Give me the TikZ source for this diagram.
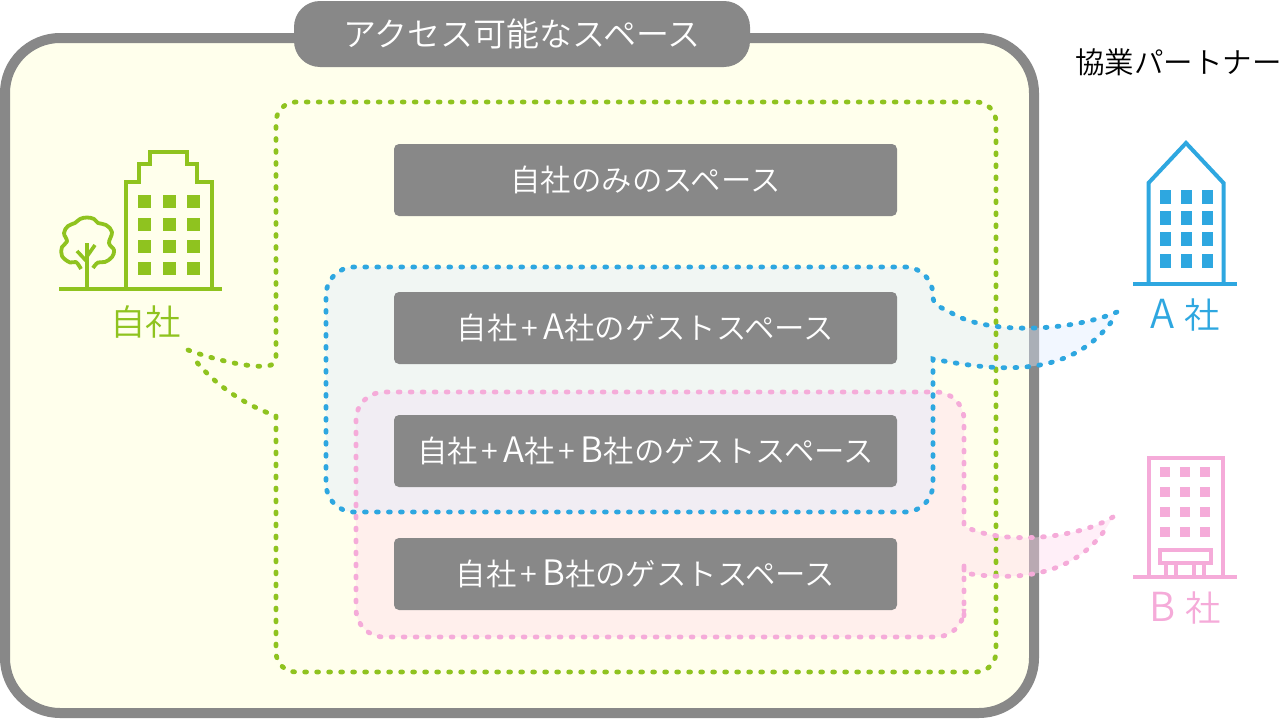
\documentclass[tikz,border=0pt]{standalone}
\usepackage{fontspec}
\setmainfont{Noto Sans CJK JP DemiLight}
\usetikzlibrary{positioning}
\definecolor{framegray}{HTML}{888888}
\definecolor{cream}{HTML}{FFFFEC}
\definecolor{jisha}{HTML}{8FC31F}
\definecolor{asha}{HTML}{2EA7E0}
\definecolor{bsha}{HTML}{F5ABD9}
\definecolor{aarea}{RGB}{222,234,255}
\definecolor{barea}{RGB}{255,217,238}
\newcommand{\plusmark}{\hspace{3.5pt}+\hspace{5.5pt}}
\newcommand{\lat}[1]{{\fontsize{35}{36}\selectfont #1}}
\newcommand{\biglat}[1]{{\fontsize{40}{40}\selectfont #1}\hspace{10pt}}
\newcommand{\bshapath}{(1113,517) .. controls (1075,540) and (1000,545) .. (964,526) -- (964,450)
	{[rounded corners=28pt] -- (964,392) -- (356,392) -- (356,637) -- (964,637) -- (964,590)} -- (964,573)
	.. controls (1020,582) and (1075,575) .. (1107,527)}
\newcommand{\ashapath}{(1117,312) .. controls (1070,332) and (985,335) .. (950,312) .. controls (938,306) and (933,305) .. (933,296)
	{[rounded corners=28pt] -- (933,267) -- (326,267) -- (326,512) -- (933,512) -- (933,400)} -- (933,359)
	.. controls (1000,372) and (1070,378) .. (1112,321)}
\tikzset{
	x=1pt,
	y=-1pt,
	align=center,
	dots/.style={line width=4.8pt, line cap=round, dash pattern=on 1.8pt off 10.2pt},
	spacebox/.style={rectangle, fill=framegray, text=white, rounded corners=5pt, minimum width=503pt, minimum height=72pt, inner sep=0pt, font=\fontsize{30.4}{36}\selectfont},
	caption/.style={inner sep=0pt, font=\fontsize{35.5}{40}\selectfont},
	outline/.style={line width=4pt, line join=miter, fill=none},
	ground/.style={line width=4.6pt}
}
\begin{document}
\begin{tikzpicture}
	\useasboundingbox (0,0) rectangle (1280,720);
	\draw[framegray, line width=10pt, fill=cream, rounded corners=55pt] (5,38) rectangle (1034,713);
	\node (title) at (522,34) [rectangle, fill=framegray, text=white, rounded corners=26pt, minimum width=456pt, minimum height=66pt, inner sep=0pt, font=\fontsize{33}{38}\selectfont] {アクセス可能なスペース};
	\node (partner) at (1178.5,62) [inner sep=0pt, font=\fontsize{29.5}{36}\selectfont] {協業パートナー};

	\fill[barea, fill opacity=.42] \bshapath;
	\fill[aarea, fill opacity=.4] \ashapath;
	\draw[jisha, dots]
		(188,350) .. controls (215,360) and (250,368) .. (268,366) .. controls (273,365) and (276,362) .. (276,358)
		{[rounded corners=20pt] -- (276,102) -- (996,102) -- (996,672) -- (276,672) -- (276,450)} -- (276,416)
		.. controls (245,405) and (215,385) .. (195,360);
	\draw[bsha, dots] \bshapath;
	\draw[asha, dots] \ashapath;

	\node (own) at (645.5,180) [spacebox] {自社のみのスペース};
	\node (owna) at (645.5,328) [spacebox] {自社\plusmark\lat{A}社のゲストスペース};
	\node (ownab) at (645.5,451) [spacebox] {自社\plusmark\lat{A}社\plusmark\lat{B}社のゲストスペース};
	\node (ownb) at (645.5,574) [spacebox] {自社\plusmark\lat{B}社のゲストスペース};

	\node (jishalabel) at (145.5,322) [caption, text=jisha] {自社};
	\node (alabel) at (1185,315) [caption, text=asha] {\biglat{A}社};
	\node (blabel) at (1185,608) [caption, text=bsha] {\biglat{B}社};

	\draw[jisha, outline] (125.5,287) -- (125.5,182) -- (138.5,182) -- (138.5,164) -- (150,164) -- (150,152) -- (187,152) -- (187,164) -- (197,164) -- (197,182) -- (212,182) -- (212,287);
	\draw[jisha, ground] (59,289) -- (222,289);
	\foreach \x in {138,163,187}
		\foreach \y in {195,217.5,240,262}
			\fill[jisha] (\x,\y) rectangle ++(13.3,13.3);
	\draw[jisha, outline] (87.3,243) -- (87.3,287);
	\draw[jisha, line width=3.6pt] (77,251) -- (87.3,262) (95,245) -- (87.3,256);
	\draw[jisha, line width=3.8pt, line join=round] plot[smooth, tension=.65] coordinates {(81,269) (76,262) (70,262.5) (62,256) (62,247) (67,241.5) (64,233) (68,226) (75,223) (80,219) (87,217.5) (94,219) (98,223) (106,225) (112,232) (109,243) (114,250) (112,257) (105,262) (98,262.5) (93,268)};

	\draw[asha, outline] (1148.5,283) -- (1148.5,183) -- (1186,143) -- (1223.5,183) -- (1223.5,283);
	\draw[asha, ground] (1133,284) -- (1237,284);
	\foreach \x in {1159.5,1180.5,1201.5}
		\foreach \y in {189.5,211,232,253.5}
			\fill[asha] (\x,\y) rectangle ++(11.3,14);

	\draw[bsha, outline] (1148.5,576) -- (1148.5,458) -- (1222.5,458) -- (1222.5,576);
	\draw[bsha, ground] (1133,577) -- (1237,577);
	\foreach \x in {1160,1180,1200}
		\foreach \y in {467.3,487.3,507.3,527.3}
			\fill[bsha] (\x,\y) rectangle ++(10,10);
	\draw[bsha, line width=3.8pt] (1160,550) rectangle (1211,563);
	\foreach \x in {1166,1176,1194,1204}
		\draw[bsha, line width=3.8pt] (\x,563) -- (\x,576);
\end{tikzpicture}
\end{document}
